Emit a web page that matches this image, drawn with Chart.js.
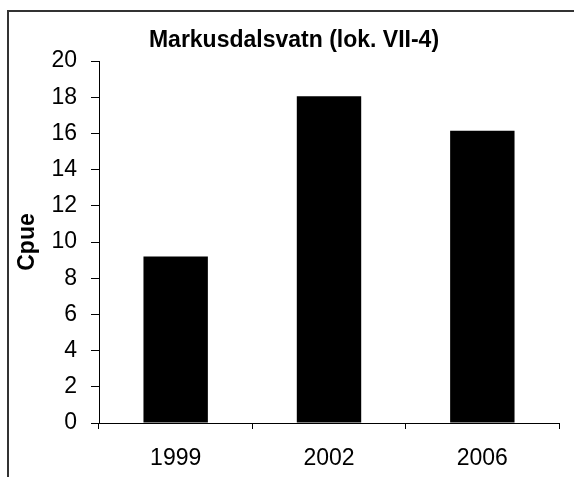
<!DOCTYPE html>
<html>
<head>
<meta charset="utf-8">
<script src="https://cdn.jsdelivr.net/npm/chart.js@4/dist/chart.umd.min.js"></script>
<style>
html,body{margin:0;padding:0;background:#fff;}
#wrap{width:574px;height:477px;position:relative;}
</style>
</head>
<body>
<div id="wrap"><canvas id="c" width="574" height="477"></canvas></div>
<script>
const categories = ['1999', '2002', '2006'];
const cpueValues = [9.2, 18.05, 16.15];
const yTicks = [0, 2, 4, 6, 8, 10, 12, 14, 16, 18, 20];
const chartTitle = 'Markusdalsvatn (lok. VII-4)';
const yTitle = 'Cpue';

const FONT = "'Liberation Sans', Arial, sans-serif";

const framePlugin = {
  id: 'frame',
  afterDraw(chart) {
    const ctx = chart.ctx;
    ctx.save();
    ctx.strokeStyle = '#333';
    ctx.lineWidth = 2;
    ctx.strokeRect(8, 11, 574, 480);
    ctx.fillStyle = '#000';
    ctx.font = "bold 23px " + FONT;
    ctx.textAlign = 'center';
    ctx.textBaseline = 'middle';
    ctx.fillText(chartTitle, 294, 41);
    ctx.restore();
  }
};

new Chart(document.getElementById('c'), {
  type: 'bar',
  data: {
    labels: categories,
    datasets: [{
      data: cpueValues,
      backgroundColor: '#000',
      borderColor: '#000',
      borderWidth: 0,
      categoryPercentage: 1,
      barPercentage: 0.42
    }]
  },
  options: {
    responsive: false,
    animation: false,
    devicePixelRatio: 1,
    layout: { padding: { left: 0, top: 61, right: 15, bottom: 0 } },
    plugins: { legend: { display: false }, title: { display: false }, tooltip: { enabled: false } },
    scales: {
      x: {
        offset: true,
        grid: { display: true, offset: true, drawOnChartArea: false, color: '#000', tickLength: 6, lineWidth: 1 },
        border: { display: true, color: '#000', width: 1 },
        ticks: { color: '#000', font: { family: FONT, size: 23 }, padding: 16, maxRotation: 0 },
        afterFit(s) { s.height = 54; }
      },
      y: {
        min: 0, max: 20,
        afterBuildTicks(s) { s.ticks = yTicks.map(v => ({ value: v })); },
        grid: { display: true, drawOnChartArea: false, color: '#000', tickLength: 8, lineWidth: 1 },
        border: { display: true, color: '#000', width: 1 },
        ticks: { color: '#000', font: { family: FONT, size: 23 }, padding: 14 },
        title: { display: true, text: yTitle, color: '#000', font: { family: FONT, size: 23, weight: 'bold' }, padding: { top: 14, bottom: 0 } },
        afterFit(s) { s.width = 99; }
      }
    }
  },
  plugins: [framePlugin]
});
</script>
</body>
</html>
